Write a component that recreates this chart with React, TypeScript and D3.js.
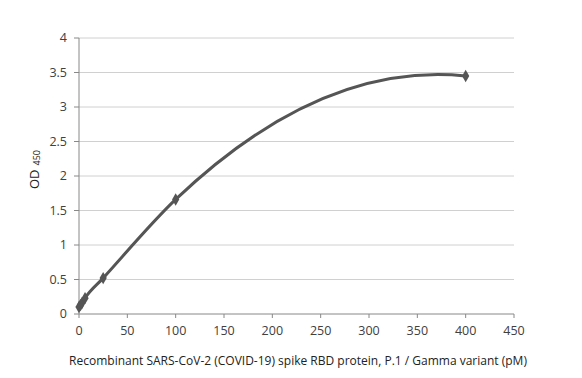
import React from "react";
import * as d3 from "d3";

const concentrations = [0, 1.5625, 3.125, 6.25, 25, 100, 400];
const odValues = [0.1, 0.13, 0.16, 0.23, 0.52, 1.66, 3.45];
const xTicks = [0, 50, 100, 150, 200, 250, 300, 350, 400, 450];
const yTicks = [0, 0.5, 1, 1.5, 2, 2.5, 3, 3.5, 4];

const W = 582, H = 378;
const left = 79, right = 514, top = 38, bottom = 314;

// derivative at xs[k] of the parabola through points a,b,c
function parabolaSlope(xa: number, ya: number, xb: number, yb: number, xc: number, yc: number, at: number) {
  const s1 = (yb - ya) / (xb - xa);
  const s2 = (yc - yb) / (xc - xb);
  const a2 = (s2 - s1) / (xc - xa);
  // p(x) = ya + s1 (x - xa) + a2 (x - xa)(x - xb)
  return s1 + a2 * ((at - xa) + (at - xb));
}

function smoothPath(xs: number[], ys: number[], sx: d3.ScaleLinear<number, number>, sy: d3.ScaleLinear<number, number>) {
  const n = xs.length;
  const m: number[] = [];
  for (let i = 0; i < n; i++) {
    const k = Math.min(Math.max(i - 1, 0), n - 3);
    m.push(parabolaSlope(xs[k], ys[k], xs[k + 1], ys[k + 1], xs[k + 2], ys[k + 2], xs[i]));
  }
  const p = d3.path();
  p.moveTo(sx(xs[0]), sy(ys[0]));
  for (let i = 0; i < n - 1; i++) {
    const h = xs[i + 1] - xs[i];
    p.bezierCurveTo(
      sx(xs[i] + h / 3), sy(ys[i] + (m[i] * h) / 3),
      sx(xs[i + 1] - h / 3), sy(ys[i + 1] - (m[i + 1] * h) / 3),
      sx(xs[i + 1]), sy(ys[i + 1])
    );
  }
  return p.toString();
}

export default function App() {
  const x = d3.scaleLinear().domain([0, 450]).range([left, right]);
  const y = d3.scaleLinear().domain([0, 4]).range([bottom, top]);
  const diamond = d3.symbol().type(d3.symbolDiamond).size(45)();
  const font = "'Open Sans', sans-serif";
  const tc = "#404040";
  return (
    <svg width={W} height={H} style={{ position: "absolute", left: 0, top: 0, background: "#fff" }}>
      {yTicks.map(t => (
        <g key={"y" + t}>
          {t > 0 && <line x1={left} x2={right} y1={y(t)} y2={y(t)} stroke="#d0d0d0" strokeWidth={1} />}
          <line x1={left - 5} x2={left} y1={y(t)} y2={y(t)} stroke="#888" />
          <text x={left - 12} y={y(t)} dy="0.35em" textAnchor="end" fontFamily={font} fontSize={12.5} fill={tc}>{t}</text>
        </g>
      ))}
      {xTicks.map(t => (
        <g key={"x" + t}>
          <line x1={x(t)} x2={x(t)} y1={bottom} y2={bottom + 4} stroke="#888" />
          <text x={x(t)} y={bottom + 17} dy="0.35em" textAnchor="middle" fontFamily={font} fontSize={12.5} fill={tc}>{t}</text>
        </g>
      ))}
      <line x1={left} x2={left} y1={top} y2={bottom} stroke="#888" />
      <line x1={left} x2={right} y1={bottom} y2={bottom} stroke="#888" />
      <path d={smoothPath(concentrations, odValues, x, y)} fill="none" stroke="#555" strokeWidth={3} strokeLinejoin="round" />
      {concentrations.map((c, i) => (
        <path key={i} d={diamond || ""} transform={`translate(${x(c)},${y(odValues[i])})`} fill="#555" />
      ))}
      <text transform={`translate(39,189) rotate(-90)`} textAnchor="start" fontFamily={font} fontSize={13} fill="#222">
        OD<tspan fontSize={9} dx="4" dy="1">450</tspan>
      </text>
      <text x={298} y={365} textAnchor="middle" fontFamily={font} fontSize={12} fill="#222">
        Recombinant SARS-CoV-2  (COVID-19) spike RBD protein, P.1 / Gamma variant (pM)
      </text>
    </svg>
  );
}
